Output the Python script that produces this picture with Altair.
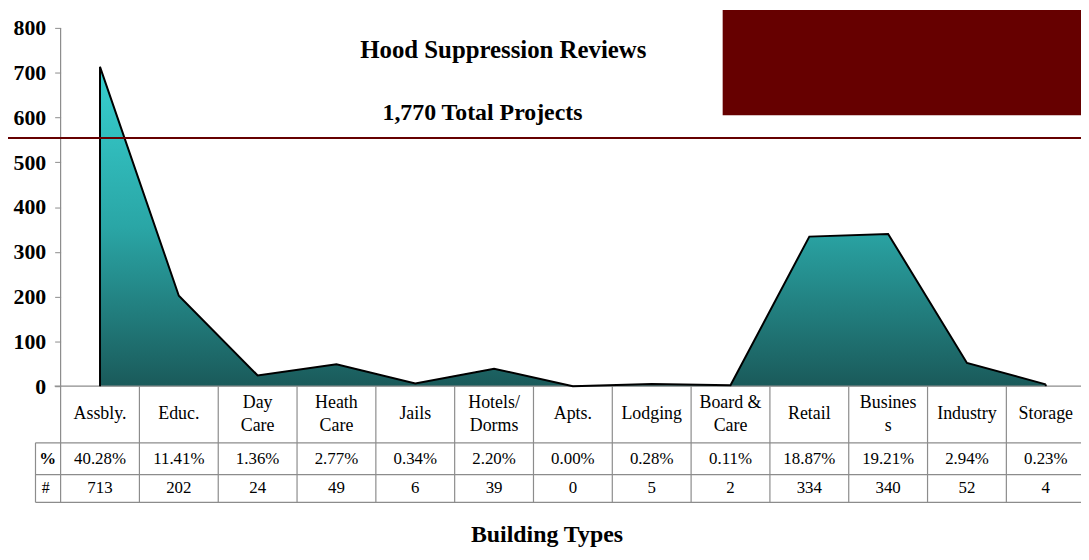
import altair as alt
import pandas as pd

# ---------------- data ----------------
categories = ["Assbly.", "Educ.", "Day\nCare", "Heath\nCare", "Jails", "Hotels/\nDorms",
              "Apts.", "Lodging", "Board &\nCare", "Retail", "Busines\ns", "Industry", "Storage"]
counts = [713, 202, 24, 49, 6, 39, 0, 5, 2, 334, 340, 52, 4]
percents = ["40.28%", "11.41%", "1.36%", "2.77%", "0.34%", "2.20%", "0.00%",
            "0.28%", "0.11%", "18.87%", "19.21%", "2.94%", "0.23%"]
y_ticks = [0, 100, 200, 300, 400, 500, 600, 700, 800]
title_text = "Hood Suppression Reviews"
subtitle_text = "1,770 Total Projects"
x_title = "Building Types"

df = pd.DataFrame({"idx": list(range(len(categories))), "cat": categories,
                   "count": counts, "pct": percents})

# ---------------- layout (page pixels -> data units) ----------------
PAGE_M = 8
AX_X = 61          # page x of y-axis
ZERO_Y = 387       # page y of value 0
TOP_Y = 26         # page y of value 800
RIGHT_X = 1089
BOTTOM_Y = 552
COL = 79.4         # column width in px
KY = (ZERO_Y - TOP_Y) / 800.0

W = RIGHT_X - AX_X
H = BOTTOM_Y - PAGE_M


def xv(px):
    return -0.5 + (px - AX_X) / COL


def yv(py):
    return (ZERO_Y - py) / KY


x_dom = [-0.5, xv(RIGHT_X)]
y_dom = [yv(BOTTOM_Y), yv(PAGE_M)]

xs = alt.Scale(domain=x_dom, nice=False, zero=False)
ys = alt.Scale(domain=y_dom, nice=False, zero=False)

FONT = "Liberation Serif"
GRID = "#8c8c8c"

X = alt.X("idx:Q", scale=xs, axis=None)


def seg(x, x2, y, y2):
    return pd.DataFrame({"x": x, "x2": x2, "y": y, "y2": y2})


def rules(frame, color, width):
    return alt.Chart(frame).mark_rule(color=color, strokeWidth=width).encode(
        x=alt.X("x:Q", scale=xs, axis=None), x2="x2:Q",
        y=alt.Y("y:Q", scale=ys), y2="y2:Q")


# dark red rectangle
rect = alt.Chart(seg([xv(728)], [x_dom[1]], [yv(114)], [y_dom[1]])).mark_rect(
    color="#660000").encode(
    x=alt.X("x:Q", scale=xs, axis=None), x2="x2:Q",
    y=alt.Y("y:Q", scale=ys), y2="y2:Q")

area = alt.Chart(df).mark_area(
    color=alt.Gradient(gradient="linear",
                       stops=[alt.GradientStop(color="#37D0D0", offset=0),
                              alt.GradientStop(color="#2AA6A6", offset=0.5),
                              alt.GradientStop(color="#1A5A5A", offset=1)],
                       x1=1, x2=1, y1=0, y2=1)
).encode(x=X, y=alt.Y("count:Q", scale=ys,
                        axis=alt.Axis(values=y_ticks, domain=False, grid=False, title=None,
                                      tickColor=GRID, tickSize=6, labelFont=FONT,
                                      labelFontSize=22, labelFontWeight="bold",
                                      labelColor="black", labelPadding=9)))

outline = alt.Chart(df).mark_line(color="black", strokeWidth=2).encode(
    x=X, y=alt.Y("count:Q", scale=ys))

edges = alt.Chart(df).transform_filter(
    (alt.datum.idx == 0) | (alt.datum.idx == len(categories) - 1)
).transform_calculate(zero="0").mark_rule(color="black", strokeWidth=2).encode(
    x=X, y=alt.Y("zero:Q", scale=ys), y2="count:Q")

# grid / axis lines
n = len(categories)
grid_h = seg([xv(55), xv(35.7), xv(35.7), xv(35.7)], [x_dom[1]] * 4,
             [0, yv(444), yv(476), yv(504)], [0, yv(444), yv(476), yv(504)])
grid_v = seg([i + 0.5 for i in range(n - 1)] + [-0.5, xv(35.7)],
             [i + 0.5 for i in range(n - 1)] + [-0.5, xv(35.7)],
             [0] * (n - 1) + [800, yv(444)],
             [yv(504)] * (n - 1) + [yv(504), yv(504)])
hl = rules(grid_h, GRID, 1.2)
vl = rules(grid_v, GRID, 1.2)
red_line = rules(seg([xv(0)], [x_dom[1]], [yv(137)], [yv(137)]), "#660000", 2)

# table text
TY = alt.Y("ty:Q", scale=ys)
hdr = alt.Chart(df).transform_calculate(
    ty=f"indexof(datum.cat, '\\n') >= 0 ? {yv(404)} : {yv(415.5)}"
).mark_text(
    font=FONT, fontSize=18, lineBreak="\n", lineHeight=23,
    baseline="middle", color="black").encode(x=X, y=TY, text="cat:N")
pct_t = alt.Chart(df).transform_calculate(ty=str(yv(460))).mark_text(
    font=FONT, fontSize=17, baseline="middle", color="black").encode(
    x=X, y=TY, text="pct:N")
cnt_t = alt.Chart(df).transform_calculate(ty=str(yv(490))).mark_text(
    font=FONT, fontSize=17, baseline="middle", color="black").encode(
    x=X, y=TY, text="count:Q")


def label(txt, px, py, size, weight):
    return alt.Chart(pd.DataFrame({"x": [xv(px)], "y": [yv(py)], "t": [txt]})).mark_text(
        font=FONT, fontSize=size, fontWeight=weight, baseline="middle", color="black"
    ).encode(x=alt.X("x:Q", scale=xs, axis=None), y=alt.Y("y:Q", scale=ys), text="t:N")


rl1 = label("%", 48, 460, 17, "bold")
rl2 = label("#", 46, 490, 16, "normal")
t1 = label(title_text, 507, 48, 25, "bold")
t2 = label(subtitle_text, 486, 112, 24, "bold")
t3 = label(x_title, 551, 537, 24, "bold")

chart = alt.layer(
    area, rect, hl, vl, outline, edges, red_line,
    hdr, pct_t, cnt_t, rl1, rl2, t1, t2, t3
).properties(
    width=W, height=H,
    background="white",
    autosize=alt.AutoSizeParams(type="none"),
    padding={"left": AX_X - PAGE_M, "top": 0, "right": 0, "bottom": 0},
).configure_view(stroke=None)

chart.save("out.html", embed_options={"renderer": "svg", "actions": False})
